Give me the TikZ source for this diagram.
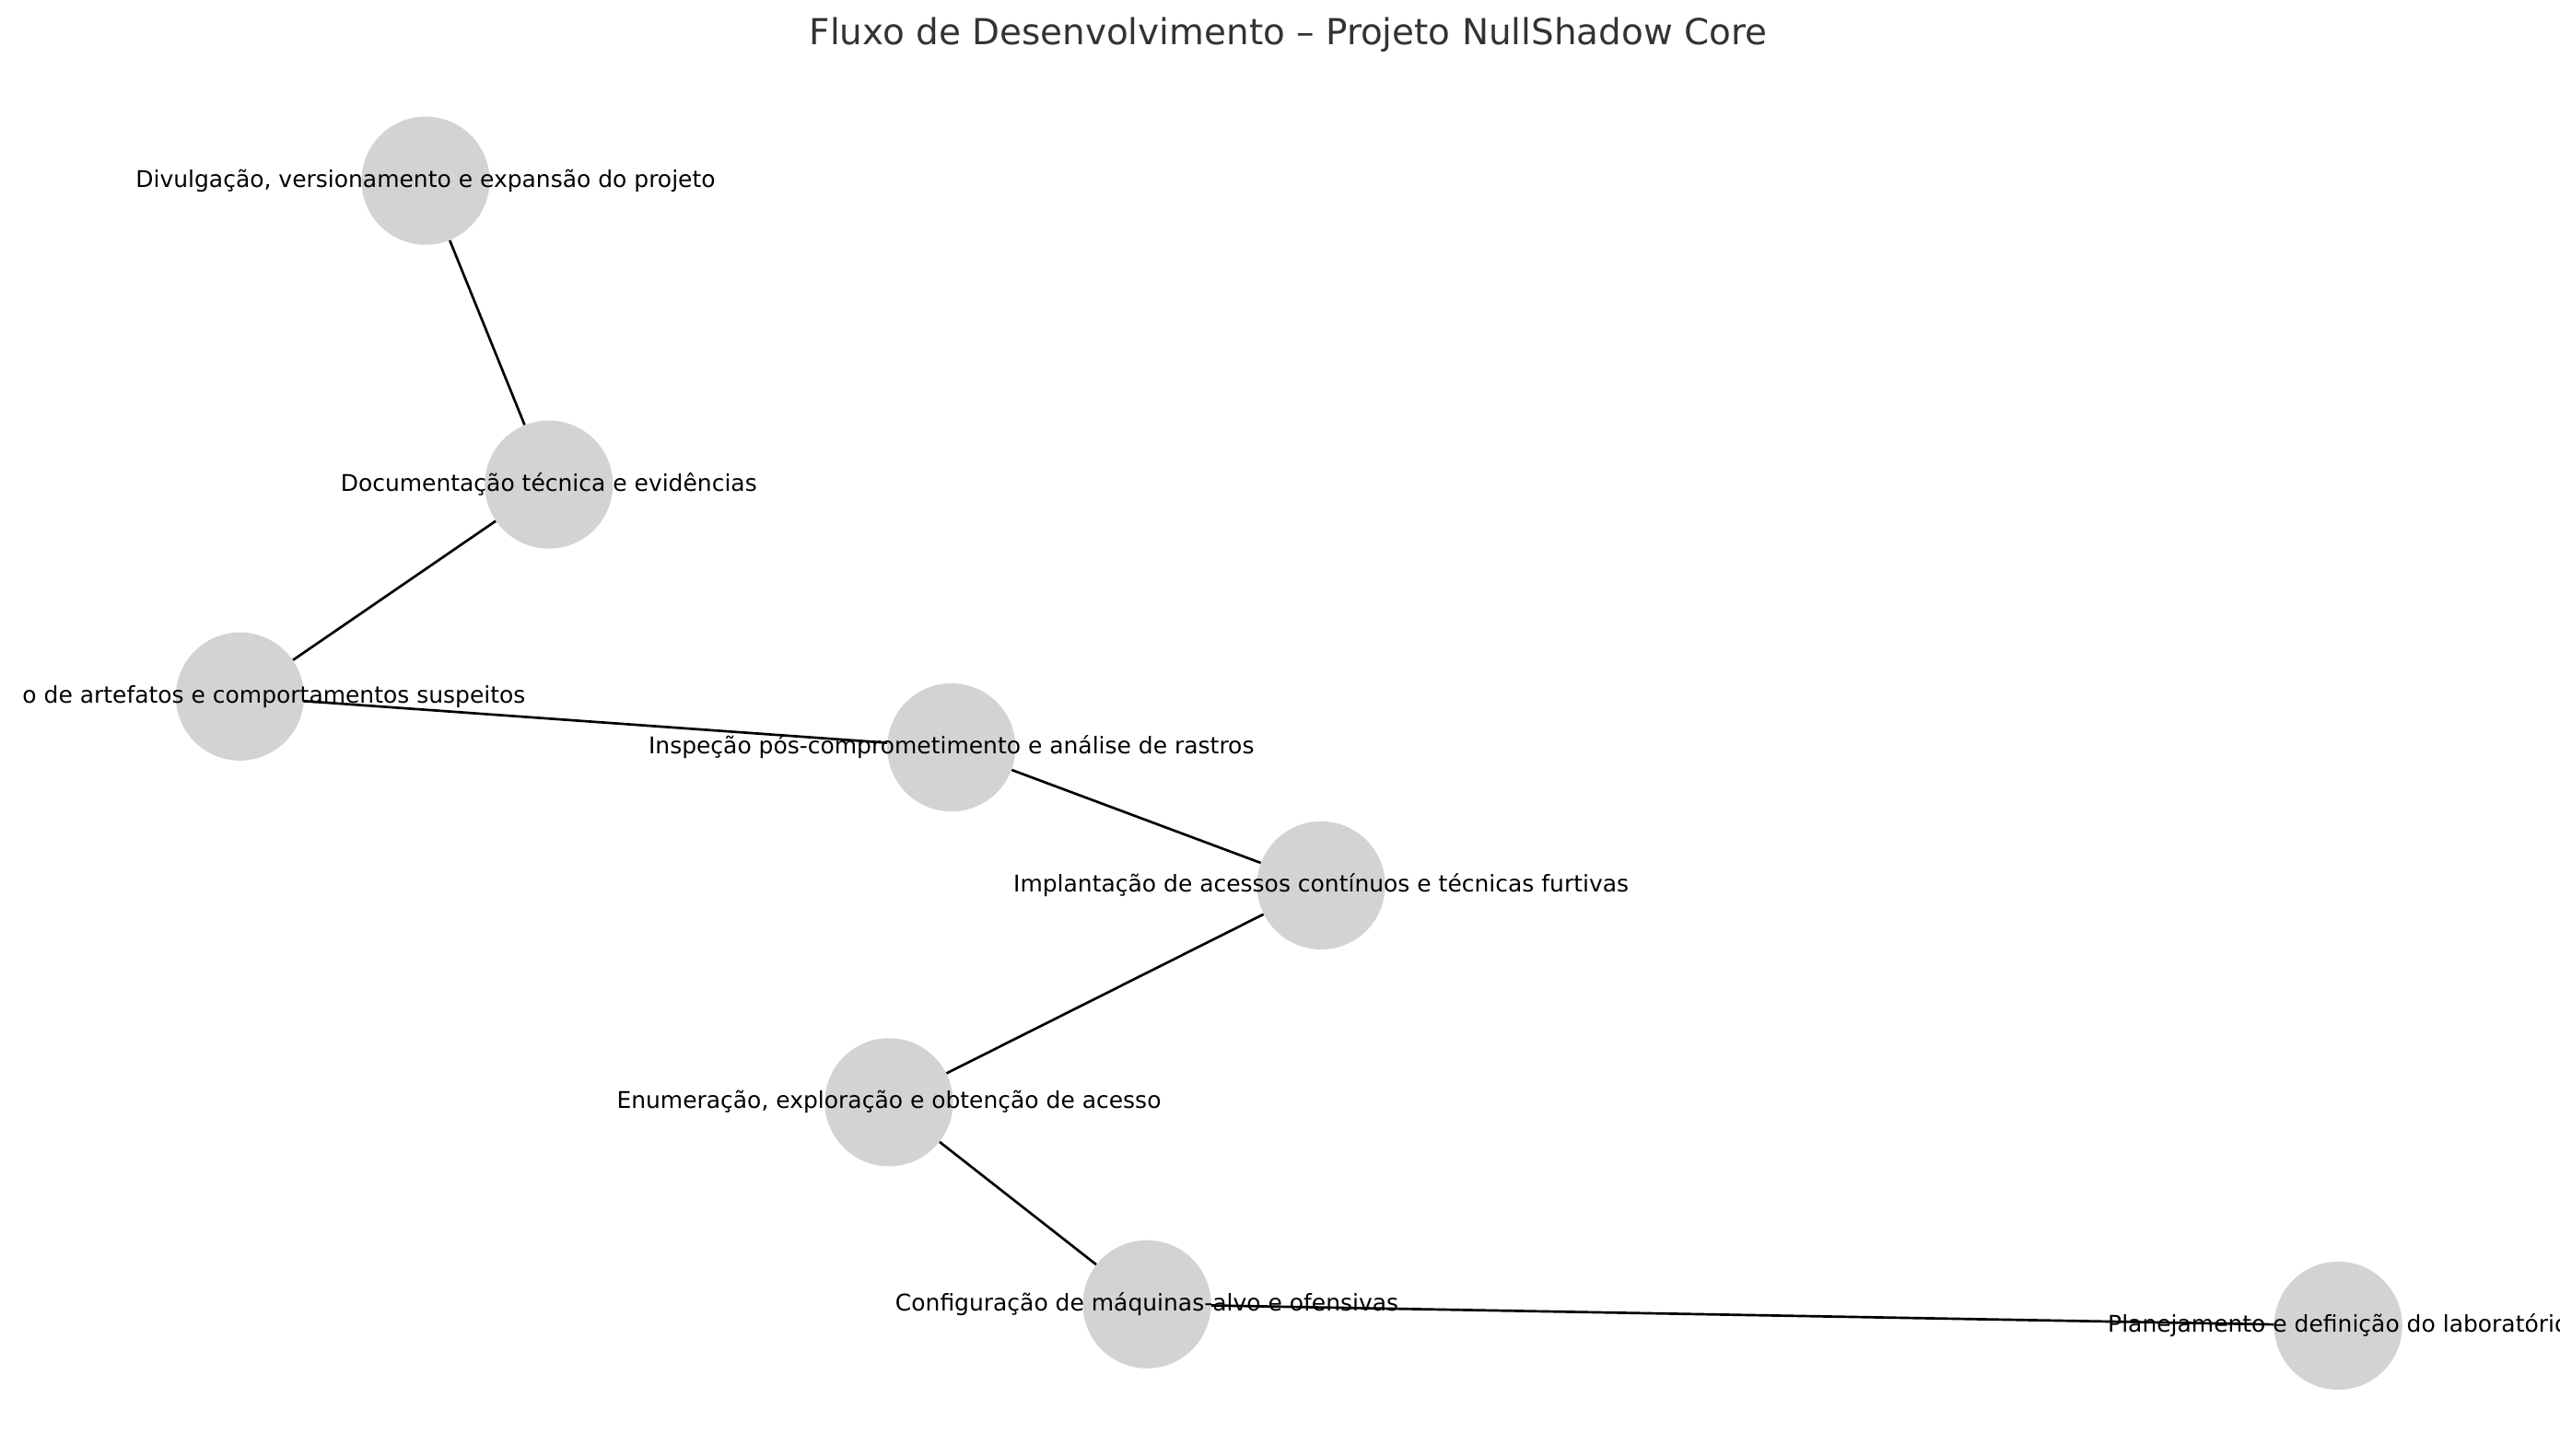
\documentclass[tikz,border=0pt]{standalone}
\usepackage{fontspec}
\setmainfont{DejaVu Sans}
\definecolor{nodegray}{HTML}{D3D3D3}
\definecolor{titlegray}{HTML}{333333}
\tikzset{
	etapa/.style={circle, fill=nodegray, minimum size=78pt, inner sep=0pt},
	rotulo/.style={font=\fontsize{14}{16}\selectfont, inner sep=0pt},
	ligacao/.style={line width=1.5pt, black},
}
\begin{document}
\begin{tikzpicture}[x=1pt,y=1pt]
		\useasboundingbox (0,0) rectangle (1558,886);
		\clip (0,0) rectangle (1558,886);
		\node[etapa] (div) at (259,776) {};
		\node[etapa] (doc) at (334,591) {};
		\node[etapa] (art) at (146,462) {};
		\node[etapa] (insp) at (579,431) {};
		\node[etapa] (impl) at (804,347) {};
		\node[etapa] (enum) at (541,215) {};
		\node[etapa] (conf) at (698,92) {};
		\node[etapa] (plan) at (1423,79) {};
		\draw[ligacao] (div) -- (doc);
		\draw[ligacao] (doc) -- (art);
		\draw[ligacao] (art) -- (insp);
		\draw[ligacao] (insp) -- (impl);
		\draw[ligacao] (impl) -- (enum);
		\draw[ligacao] (enum) -- (conf);
		\draw[ligacao] (conf) -- (plan);
		\node[rotulo] (divtxt) at (div) {Divulgação, versionamento e expansão do projeto};
		\node[rotulo] (doctxt) at (doc) {Documentação técnica e evidências};
		\node[rotulo, anchor=east] (arttxt) at (320,462) {o de artefatos e comportamentos suspeitos};
		\node[rotulo] (insptxt) at (insp) {Inspeção pós-comprometimento e análise de rastros};
		\node[rotulo] (impltxt) at (impl) {Implantação de acessos contínuos e técnicas furtivas};
		\node[rotulo] (enumtxt) at (enum) {Enumeração, exploração e obtenção de acesso};
		\node[rotulo] (conftxt) at (conf) {Configuração de máquinas-alvo e ofensivas};
		\node[rotulo] (plantxt) at (plan) {Planejamento e definição do laboratório};
		\node[font=\fontsize{21.8}{25}\selectfont, text=titlegray] (titulo) at (784,865) {Fluxo de Desenvolvimento – Projeto NullShadow Core};
	\end{tikzpicture}
\end{document}
